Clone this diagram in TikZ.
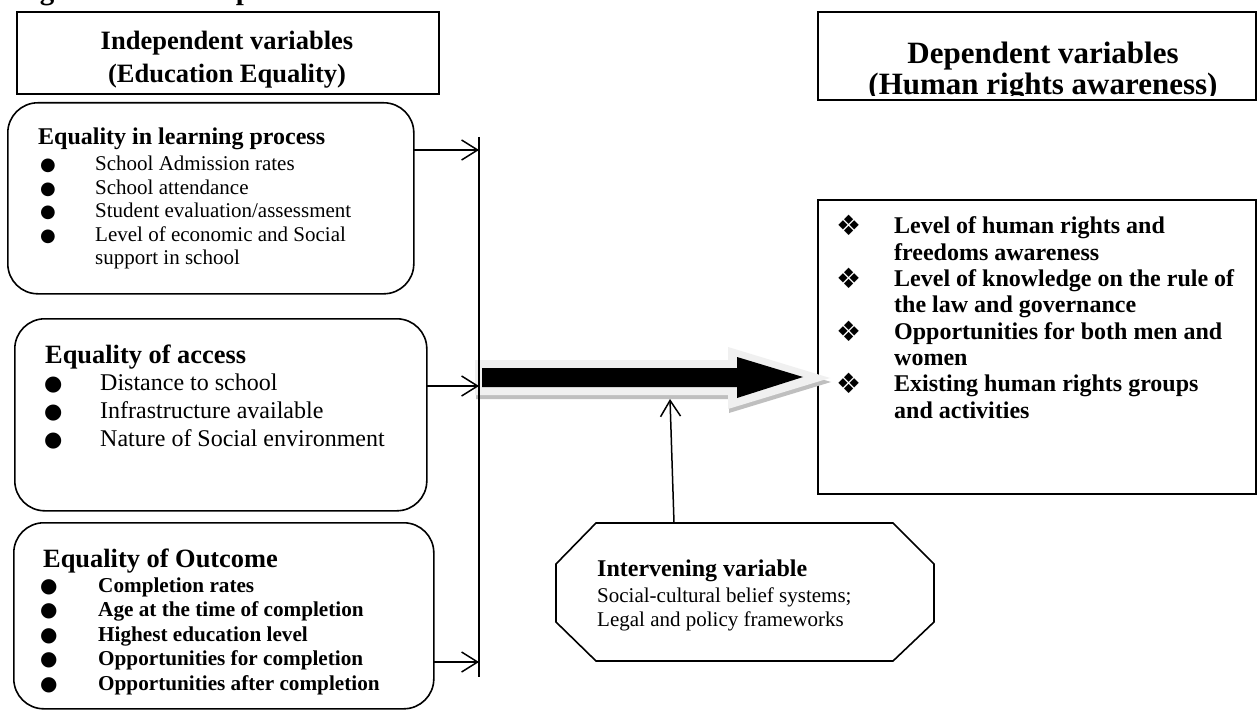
\documentclass[tikz,border=0pt]{standalone}
\usepackage{fontspec}
\setmainfont{Liberation Serif}
\newfontfamily\symbolfont{DejaVu Sans}
\usetikzlibrary{arrows.meta}

\newcommand\sz[2]{\fontsize{#1}{#2}\selectfont}

\tikzset{
  frame/.style={draw=black, line width=1.6pt},
  roundbox/.style={frame, rounded corners=30pt, anchor=north west, inner sep=0pt},
  plainbox/.style={frame, anchor=north west, inner sep=0pt},
  link/.style={line width=1.5pt},
  arr/.style={link, -{Straight Barb[length=16pt,width=20pt]}},
  txt/.style={anchor=base west, inner sep=0pt},
  ctxt/.style={anchor=base, inner sep=0pt},
  bulletmark/.style={anchor=base west, inner sep=0pt, font=\symbolfont\sz{18}{20}},
  diamondmark/.style={anchor=base west, inner sep=0pt, font=\symbolfont\sz{28}{30}},
}

\begin{document}
\begin{tikzpicture}[x=1pt,y=-1pt]
\useasboundingbox (0,0) rectangle (1257,711);
\fill[white] (0,0) rectangle (1257,711);

% caption running off the top edge
\node[txt, font=\bfseries\sz{29}{34}] (caption) at (14,0) {Figure 2.1: Conceptual Framework};

% ---------- headers ----------
\node[plainbox, minimum width=422pt, minimum height=82pt] (indep) at (16,11) {};
\node[ctxt, font=\bfseries\sz{26.5}{31}] (indep-1) at (227,50) {Independent variables};
\node[ctxt, font=\bfseries\sz{26.5}{31}] (indep-2) at (227,83) {(Education Equality)};

\node[plainbox, minimum width=438pt, minimum height=88pt] (dep) at (817,11) {};
\begin{scope}
  \clip (817,11) rectangle (1255,96);
  \node[ctxt, font=\bfseries\sz{31}{36}] (dep-1) at (1043,64) {Dependent variables};
  \node[ctxt, font=\bfseries\sz{31}{36}] (dep-2) at (1043,95) {(Human rights awareness)};
\end{scope}

% ---------- equality in learning process ----------
\node[roundbox, minimum width=406pt, minimum height=191pt] (learn) at (7,102) {};
\node[txt, font=\bfseries\sz{24}{28}] (learn-h) at (38,145) {Equality in learning process};
\foreach \y [count=\i] in {171,194.3,217.6,241}
  \node[bulletmark] (learn-b\i) at (40,\y) {●};
\begin{scope}[every node/.style={txt, font=\sz{21}{24}}]
  \node (learn-1) at (95,171) {School Admission rates};
  \node (learn-2) at (95,194.3) {School attendance};
  \node (learn-3) at (95,217.6) {Student evaluation/assessment};
  \node (learn-4) at (95,241) {Level of economic and Social};
  \node (learn-5) at (95,264.3) {support in school};
\end{scope}

% ---------- equality of access ----------
\node[roundbox, minimum width=412pt, minimum height=192pt] (access) at (14,318) {};
\node[txt, font=\bfseries\sz{26.4}{31}] (access-h) at (45,363) {Equality of access};
\foreach \y [count=\i] in {390.7,418.7,446.7}
  \node[bulletmark, font=\symbolfont\sz{21}{24}] (access-b\i) at (44,\y) {●};
\begin{scope}[every node/.style={txt, font=\sz{24}{28}}]
  \node (access-1) at (100,390.7) {Distance to school};
  \node (access-2) at (100,418.7) {Infrastructure available};
  \node (access-3) at (100,446.7) {Nature of Social environment};
\end{scope}

% ---------- equality of outcome ----------
\node[roundbox, minimum width=420pt, minimum height=186pt] (outcome) at (13,522) {};
\node[txt, font=\bfseries\sz{26.4}{31}] (outcome-h) at (43,567) {Equality of Outcome};
\foreach \y [count=\i] in {592,616.5,641,665.5,690}
  \node[bulletmark, font=\symbolfont\sz{20}{22}] (outcome-b\i) at (40,\y) {●};
\begin{scope}[every node/.style={txt, font=\bfseries\sz{21.2}{24}}]
  \node (outcome-1) at (98,592) {Completion rates};
  \node (outcome-2) at (98,616.5) {Age at the time of completion};
  \node (outcome-3) at (98,641) {Highest education level};
  \node (outcome-4) at (98,665.5) {Opportunities for completion};
  \node (outcome-5) at (98,690) {Opportunities after completion};
\end{scope}

% ---------- collecting line and its inputs ----------
\coordinate (vtop) at (479,137);
\coordinate (vbot) at (479,677);
\coordinate (in1) at (413,150);
\coordinate (in2) at (426,386);
\coordinate (in3) at (433,662);

% ---------- dependent variable list ----------
\node[plainbox, minimum width=438pt, minimum height=294pt] (result) at (817,199) {};
\foreach \y [count=\i] in {234,286.6,339.2,391.8}
  \node[diamondmark] (result-b\i) at (836,\y+2) {❖};
\begin{scope}[every node/.style={txt, font=\bfseries\sz{24}{28}}]
  \node (result-1) at (894,234) {Level of human rights and};
  \node (result-2) at (894,260.3) {freedoms awareness};
  \node (result-3) at (894,286.6) {Level of knowledge on the rule of};
  \node (result-4) at (894,312.9) {the law and governance};
  \node (result-5) at (894,339.2) {Opportunities for both men and};
  \node (result-6) at (894,365.5) {women};
  \node (result-7) at (894,391.8) {Existing human rights groups};
  \node (result-8) at (894,418.1) {and activities};
\end{scope}

% ---------- main block arrow: shadow, pale rim, black body ----------
\fill[black!25] (476,364) -- (729,364) -- (729,351) -- (831,382) -- (729,413) -- (729,399) -- (476,399) -- cycle;
\fill[black!6] (475,360) -- (728,360) -- (728,347) -- (830,378) -- (728,409) -- (728,395) -- (475,395) -- cycle;
\fill[black] (482,368) -- (737,368) -- (737,357) -- (803,377) -- (737,398) -- (737,387) -- (482,387) -- cycle;

\draw[link] (vtop) -- (vbot);
\draw[arr] (in1) -- (in1 -| vtop);
\draw[arr] (in2) -- (in2 -| vtop);
\draw[arr] (in3) -- (in3 -| vtop);

% ---------- intervening variable ----------
\draw[frame] (596,523) -- (893,523) -- (934,564) -- (934,622) -- (893,661)
  -- (596,661) -- (556,622) -- (556,564) -- cycle;
\coordinate (interv) at (674,523);
\coordinate (arrowbase) at (670,399);
\node[txt, font=\bfseries\sz{24}{28}] (interv-h) at (597,576.7) {Intervening variable};
\node[txt, font=\sz{21}{24}] (interv-1) at (597,602.7) {Social-cultural belief systems;};
\node[txt, font=\sz{21}{24}] (interv-2) at (597,626.7) {Legal and policy frameworks};
\draw[arr] (interv) -- (arrowbase);
\end{tikzpicture}
\end{document}
